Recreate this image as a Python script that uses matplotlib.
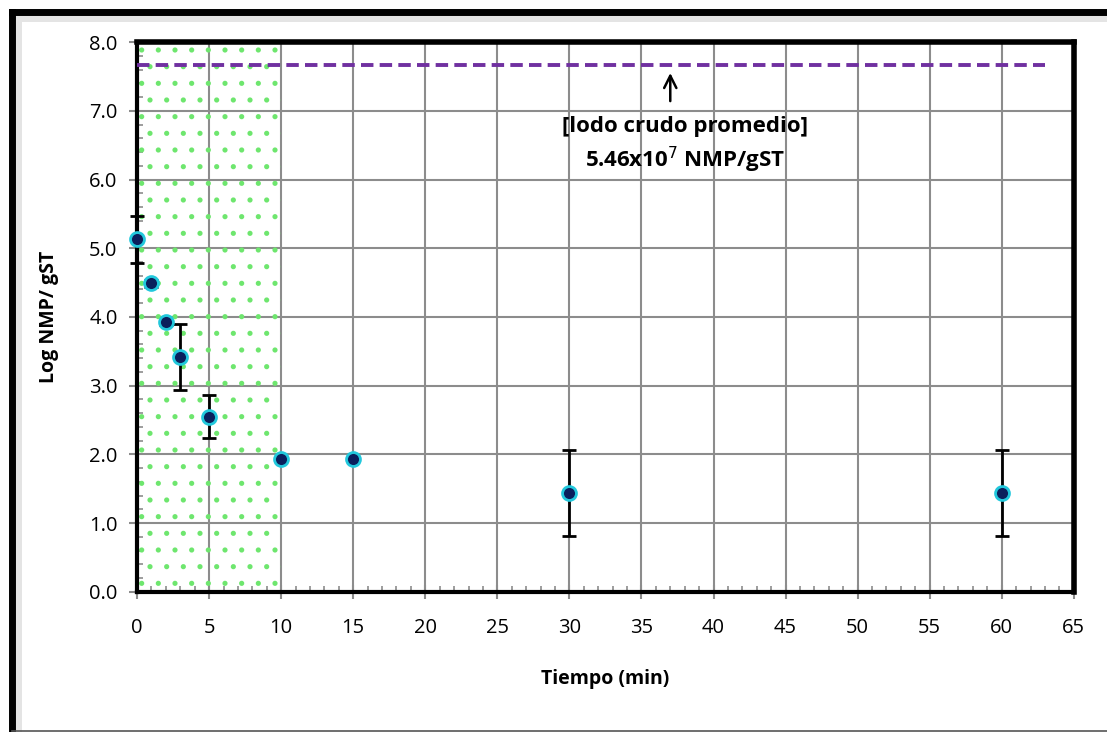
import matplotlib.pyplot as plt
from matplotlib.lines import Line2D
from matplotlib.ticker import MultipleLocator, FormatStrFormatter

plt.rcParams['font.family'] = ['Open Sans', 'DejaVu Sans']
plt.rcParams['hatch.linewidth'] = 1.3

# data
tiempo = [0, 1, 2, 3, 5, 10, 15, 30, 60]
log_nmp = [5.13, 4.49, 3.92, 3.42, 2.55, 1.94, 1.94, 1.44, 1.44]
error = [0.34, 0.05, 0.03, 0.48, 0.31, 0.03, 0.03, 0.62, 0.62]
lodo_crudo = 7.67
zona_x = [0, 10]

fig = plt.figure(figsize=(11.07, 7.32), dpi=100)
ax = fig.add_axes([0.1238, 0.1913, 0.8462, 0.7513])

# hatched zone 0-10 min
ax.fill_between(zona_x, 0, 8, facecolor='none', edgecolor='#6ee66e', hatch='.', linewidth=0, zorder=1)

# mean raw sludge line
ax.plot([0, 63], [lodo_crudo, lodo_crudo], color='#7030a0', linewidth=2.8, linestyle=(0, (3.2, 1.6)), zorder=3)

eb = ax.errorbar(tiempo, log_nmp, yerr=error, fmt='o', color='black', ecolor='black', elinewidth=2,
                 capsize=5, capthick=2, markersize=10, markerfacecolor='#0a1f5c',
                 markeredgecolor='#22c8dc', markeredgewidth=2, zorder=4)
for artist in eb.lines[0:1] + tuple(eb.lines[1]) + tuple(eb.lines[2]):
    artist.set_clip_on(False)

ax.annotate('', xy=(37, lodo_crudo - 0.08), xytext=(37, 7.1),
            arrowprops=dict(arrowstyle='->', color='black', lw=1.8, mutation_scale=22))
ax.text(38, 6.5, '[lodo crudo promedio]\n5.46x10$^{7}$ NMP/gST', ha='center', va='center',
        fontsize=16, fontweight='bold', linespacing=1.35)

ax.set_xlim(0, 65)
ax.set_ylim(0, 8)
ax.xaxis.set_major_locator(MultipleLocator(5))
ax.xaxis.set_minor_locator(MultipleLocator(1))
ax.yaxis.set_major_locator(MultipleLocator(1))
ax.yaxis.set_minor_locator(MultipleLocator(0.2))
ax.yaxis.set_major_formatter(FormatStrFormatter('%.1f'))
ax.grid(True, which='major', color='#8c8c8c', linewidth=1.5, zorder=0)
ax.set_axisbelow(True)

ax.tick_params(which='major', direction='out', length=6, width=1.5, color='#8c8c8c', labelsize=14.5, pad=8)
ax.tick_params(which='minor', direction='in', length=4, width=1.2, color='#8c8c8c')
ax.tick_params(axis='x', which='major', direction='inout', length=10, pad=14)

for side in ['top', 'right']:
    ax.spines[side].set_linewidth(4)
for side in ['left', 'bottom']:
    ax.spines[side].set_linewidth(3)

ax.set_xlabel('Tiempo (min)', fontsize=14, fontweight='bold', labelpad=22)
ax.set_ylabel('Log NMP/ gST', fontsize=14, fontweight='bold', labelpad=22)

# outer frame with soft shadow
fig.add_artist(Line2D([12 / 1107, 1.05], [1 - 18 / 732] * 2, color='#e4e4e4', linewidth=5, transform=fig.transFigure))
fig.add_artist(Line2D([18 / 1107] * 2, [-0.05, 1 - 12 / 732], color='#e4e4e4', linewidth=5, transform=fig.transFigure))
fig.add_artist(Line2D([12 / 1107, 1.05], [1 - 12 / 732] * 2, color='black', linewidth=5, transform=fig.transFigure))
fig.add_artist(Line2D([12 / 1107] * 2, [-0.05, 1 - 12 / 732], color='black', linewidth=5, transform=fig.transFigure))
fig.add_artist(Line2D([12 / 1107, 1.05], [1 / 732] * 2, color='#555555', linewidth=1.2, transform=fig.transFigure))

fig.savefig('out.png', dpi=100)
